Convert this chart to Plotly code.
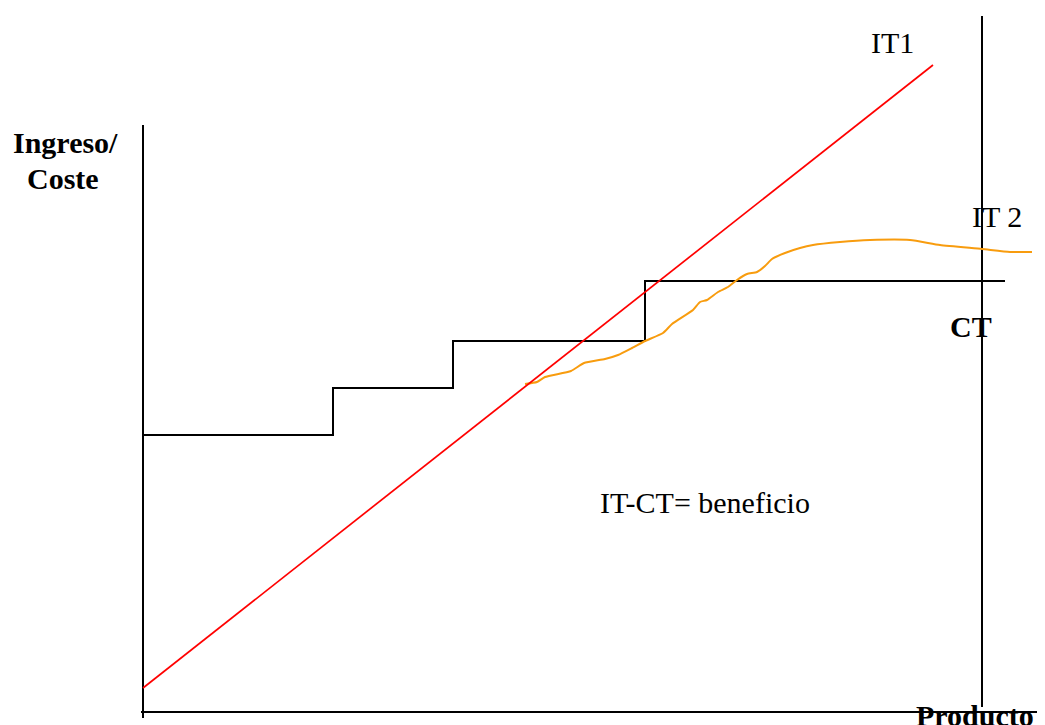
import plotly.graph_objects as go

# coordinates: origin where the two axes meet, units roughly = screen px
it1_x = [0, 790]
it1_y = [24, 647]

ct_x = [0, 190, 190, 310, 310, 502, 502, 862]
ct_y = [277, 277, 324, 324, 371, 371, 431, 431]

it2_x = [382, 394, 402, 428, 441, 462, 475, 489, 502, 520, 529, 550, 557, 564,
         575, 585, 594, 604, 614, 622, 629, 642, 657, 670, 697, 727, 767, 797,
         839, 867, 889]
it2_y = [328, 330, 335, 341, 349, 353, 357, 364, 371, 379, 388, 402, 410, 412,
         420, 425, 432, 438, 440, 446, 453, 459, 464, 467, 470, 472, 472, 467,
         463, 460, 460]

# axis frame lines
y_axis_x = [0, 0]
y_axis_y = [-6, 587]
x_axis_x = [-2, 902]
x_axis_y = [0, 0]
limit_x = [839, 839]
limit_y = [5, 696]

SERIF = "Liberation Serif, Times New Roman, serif"

fig = go.Figure()

for xs, ys in [(y_axis_x, y_axis_y), (x_axis_x, x_axis_y), (limit_x, limit_y)]:
    fig.add_trace(go.Scatter(
        x=xs, y=ys, mode="lines",
        line=dict(color="#000000", width=2),
        hoverinfo="skip", showlegend=False,
    ))

fig.add_trace(go.Scatter(
    x=ct_x, y=ct_y, mode="lines", name="CT",
    line=dict(color="#000000", width=2),
    showlegend=False,
))

fig.add_trace(go.Scatter(
    x=it2_x, y=it2_y, mode="lines", name="IT 2",
    line=dict(color="#f89c0e", width=2, shape="spline", smoothing=0.5),
    showlegend=False,
))

fig.add_trace(go.Scatter(
    x=it1_x, y=it1_y, mode="lines", name="IT1",
    line=dict(color="#ff0000", width=1.7),
    showlegend=False,
))

labels = [
    ("<b>Ingreso/</b>", -78, 570),
    ("<b>Coste</b>", -80, 534),
    ("IT1", 749, 670),
    ("IT 2", 854, 496),
    ("<b>CT</b>", 828, 386),
    ("<b>Producto</b>", 832, -3),
    ("IT-CT= beneficio", 562, 210),
]
for text, x, y in labels:
    fig.add_annotation(
        x=x, y=y, text=text, showarrow=False,
        xanchor="center", yanchor="middle",
        font=dict(family=SERIF, size=30, color="#000000"),
    )

# ranges shifted by the 8px page margin so the drawing sits where the reference has it
fig.update_layout(
    width=1045,
    height=725,
    margin=dict(l=0, r=0, t=0, b=0),
    paper_bgcolor="#ffffff",
    plot_bgcolor="#ffffff",
    xaxis=dict(range=[-135, 910], visible=False, fixedrange=True),
    yaxis=dict(range=[-21, 704], visible=False, fixedrange=True),
)

fig.write_html("out.html")
